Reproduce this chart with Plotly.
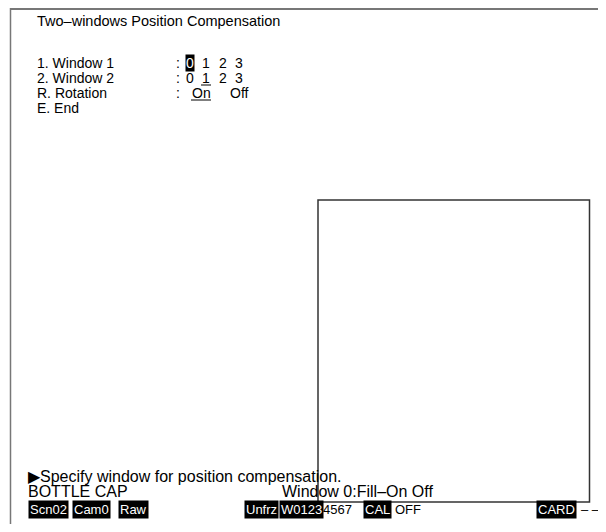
import plotly.graph_objects as go

# ---- content ----
title_text = "Two\u2013windows Position Compensation"
menu_items = ["1. Window 1", "2. Window 2", "R. Rotation", "E. End"]
window1_opts = ["0", "1", "2", "3"]
window2_opts = ["0", "1", "2", "3"]
rotation_opts = ["On", "Off"]
window1_sel = 0
window2_sel = 1
rotation_sel = 0
message_text = "\u25B6Specify window for position compensation."
scene_name = "BOTTLE CAP"
window_status = "Window 0:Fill\u2013On Off"
status_labels = ["Scn02", "Cam0", "Raw", "Unfrz", "W0123", "4567", "CAL", "OFF", "CARD", "\u2013 \u2013"]
status_inverse = [True, True, True, True, True, False, True, False, True, False]

# ---- layout constants ----
W, H = 606, 532
PAGE_MARGIN = 8  # default body margin of the html page
FONT = "Liberation Sans, Arial, sans-serif"
FS_TITLE = 14.5
FS_MENU = 14
FS_MSG = 16
FS_STATUS = 13
menu_x = 35
colon_x = 174
row_y = [63, 78, 93, 108]
num_x = [190, 206, 223, 239]
rot_x = [190, 228]
status_x = [28, 72, 118, 244, 279, 321, 363, 393, 536, 579]
status_y = 509

fig = go.Figure()
ann = []
shapes = []

def text(x, y, s, size, inv=False, anchor="left", pad=1):
    ann.append(dict(x=x, y=y, xref="x", yref="y", text=s, showarrow=False,
                    xanchor=anchor, yanchor="middle",
                    font=dict(family=FONT, size=size, color="white" if inv else "black"),
                    bgcolor="black" if inv else None, borderpad=pad))

def line(x0, y0, x1, y1, color="black", width=1):
    shapes.append(dict(type="line", xref="x", yref="y", x0=x0, y0=y0, x1=x1, y1=y1,
                       line=dict(color=color, width=width)))

# outer frame
line(10, 9, W, 9, color="#777777", width=2)
line(10.5, 8, 10.5, H, color="#777777", width=1.5)
# inner window rectangle
shapes.append(dict(type="rect", xref="x", yref="y", x0=318, y0=200, x1=589.5, y1=502,
                   line=dict(color="#333333", width=1.5)))

text(35, 21, title_text, FS_TITLE)
for i, m in enumerate(menu_items):
    text(menu_x, row_y[i], m, FS_MENU)
for i in range(3):
    text(colon_x, row_y[i], ":", FS_MENU)

for j, o in enumerate(window1_opts):
    text(num_x[j], row_y[0], o, FS_MENU, inv=(j == window1_sel), anchor="center", pad=0)
for j, o in enumerate(window2_opts):
    text(num_x[j], row_y[1], o, FS_MENU, anchor="center", pad=0)
    if j == window2_sel:
        line(num_x[j] - 5, row_y[1] + 7, num_x[j] + 5, row_y[1] + 7)
for j, o in enumerate(rotation_opts):
    text(rot_x[j], row_y[2], o, FS_MENU)
    if j == rotation_sel:
        line(rot_x[j] + 1, row_y[2] + 7, rot_x[j] + 21, row_y[2] + 7)

text(26, 476, message_text, FS_MSG)
text(26, 491, scene_name, FS_MSG)
text(280, 491, window_status, FS_MSG)
for s, x, inv in zip(status_labels, status_x, status_inverse):
    text(x, status_y, s, FS_STATUS, inv=inv)

# figure fits inside the page's body margins (no scrolling)
fig.update_layout(
    width=W - PAGE_MARGIN, height=H - 2 * PAGE_MARGIN, margin=dict(l=0, r=0, t=0, b=0),
    paper_bgcolor="white", plot_bgcolor="white",
    xaxis=dict(range=[PAGE_MARGIN, W], visible=False, fixedrange=True),
    yaxis=dict(range=[H - PAGE_MARGIN, PAGE_MARGIN], visible=False, fixedrange=True),
    annotations=ann, shapes=shapes, showlegend=False,
)
fig.write_html("out.html")
